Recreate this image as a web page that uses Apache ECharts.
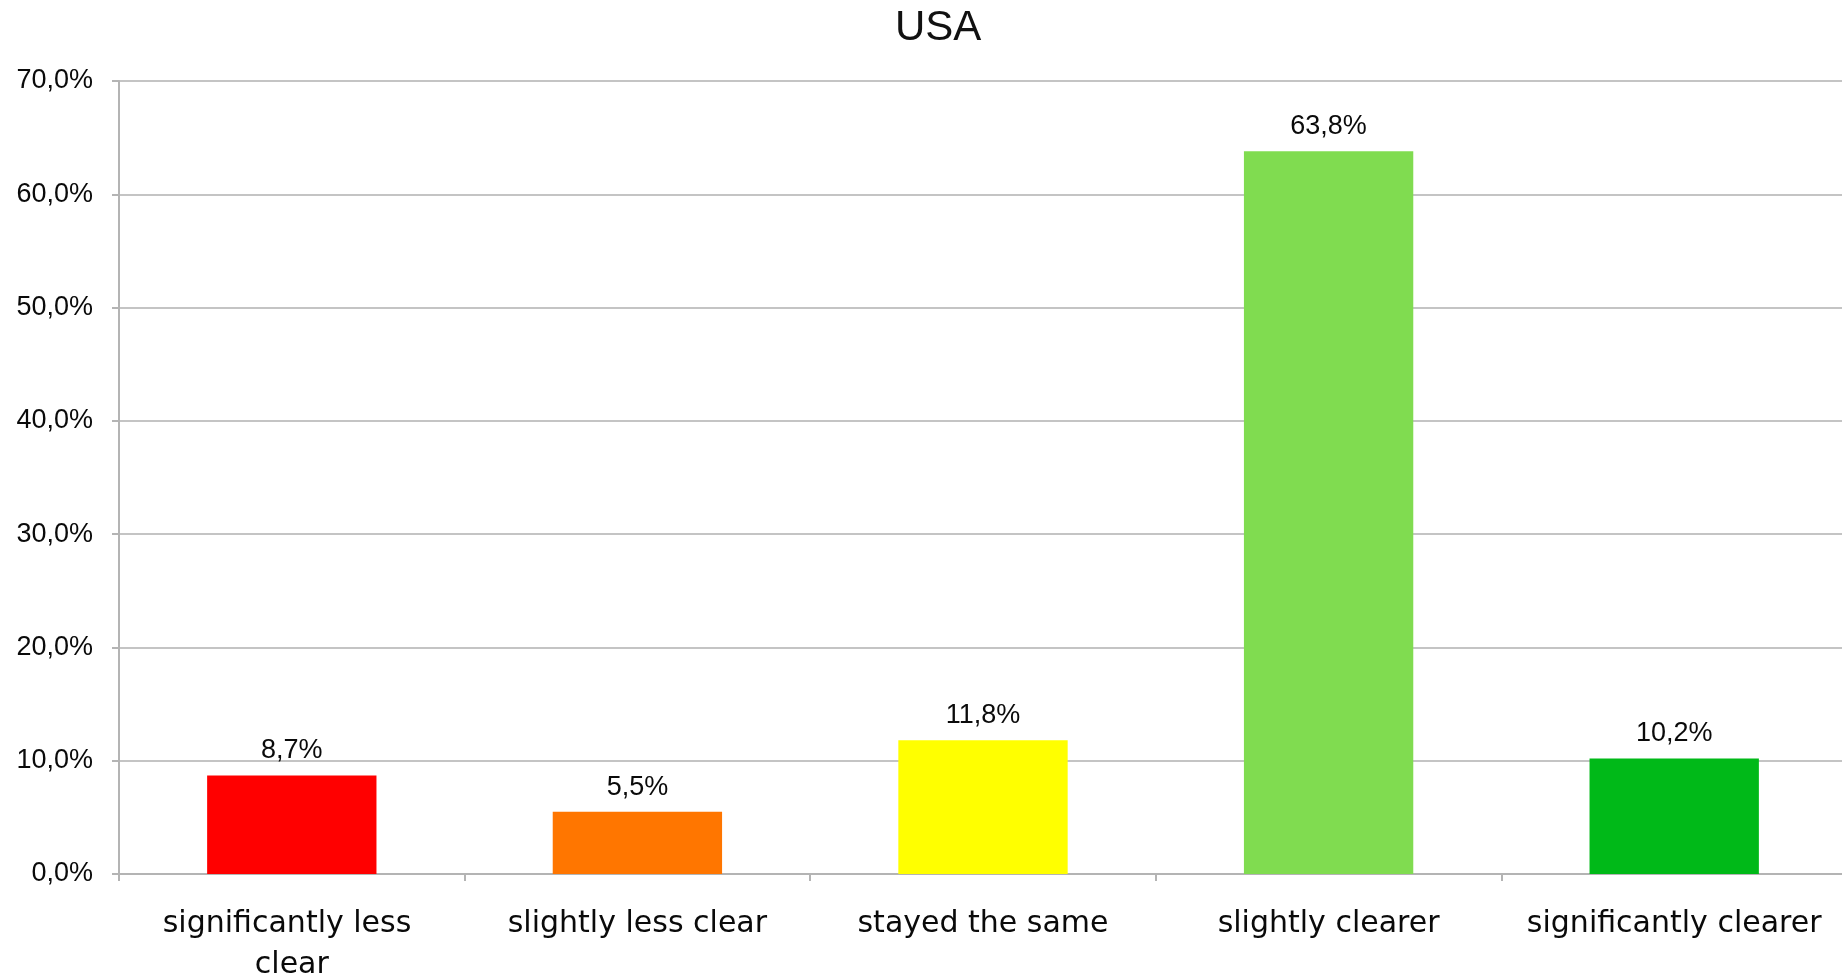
<!DOCTYPE html>
<html>
<head>
<meta charset="utf-8">
<script src="https://cdn.jsdelivr.net/npm/echarts@6/dist/echarts.min.js"></script>
<style>
html,body{margin:0;padding:0;background:#fff;}
#chart{width:1842px;height:978px;}
</style>
</head>
<body>
<div id="chart"></div>
<script>
const titleText = "USA";
const categories = ["significantly less clear", "slightly less clear", "stayed the same", "slightly clearer", "significantly clearer"];
const values = [8.7, 5.5, 11.8, 63.8, 10.2];
const barColors = ["#ff0000", "#ff7600", "#ffff00", "#80dc50", "#00b918"];
const yMin = 0, yMax = 70, yStep = 10;

function fmt(v) { return v.toFixed(1).replace('.', ',') + '%'; }

const chart = echarts.init(document.getElementById('chart'));
chart.setOption({
  animation: false,
  backgroundColor: '#ffffff',
  title: {
    text: titleText,
    left: 890,
    top: 2,
    textStyle: { fontFamily: 'Liberation Sans', fontSize: 42, fontWeight: 'normal', color: '#111' }
  },
  grid: { left: 119, right: -5, top: 81, bottom: 104, containLabel: false, outerBoundsMode: 'none' },
  xAxis: {
    type: 'category',
    data: categories,
    axisLine: { lineStyle: { color: '#b4b4b4', width: 2 } },
    axisTick: { show: true, length: 7, lineStyle: { color: '#b4b4b4', width: 2 } },
    axisLabel: {
      interval: 0,
      margin: 30,
      fontFamily: 'DejaVu Sans',
      fontSize: 30,
      lineHeight: 41,
      color: '#0a0a0a',
      width: 320,
      overflow: 'break'
    }
  },
  yAxis: {
    type: 'value',
    min: yMin, max: yMax, interval: yStep,
    axisLine: { show: true, lineStyle: { color: '#b4b4b4', width: 2 } },
    axisTick: { show: true, length: 7, lineStyle: { color: '#b4b4b4', width: 2 } },
    splitLine: { lineStyle: { color: '#c4c4c4', width: 2 } },
    axisLabel: {
      margin: 26,
      fontFamily: 'Liberation Sans',
      fontSize: 27,
      color: '#0a0a0a',
      padding: [10, 0, 0, 0],
      formatter: v => fmt(v)
    }
  },
  series: [{
    type: 'bar',
    barWidth: '49%',
    data: values.map((v, i) => ({ value: v, itemStyle: { color: barColors[i] } })),
    label: {
      show: true,
      position: 'top',
      distance: 11,
      fontFamily: 'Liberation Sans',
      fontSize: 27,
      color: '#0a0a0a',
      formatter: p => fmt(p.value)
    }
  }]
});
</script>
</body>
</html>
